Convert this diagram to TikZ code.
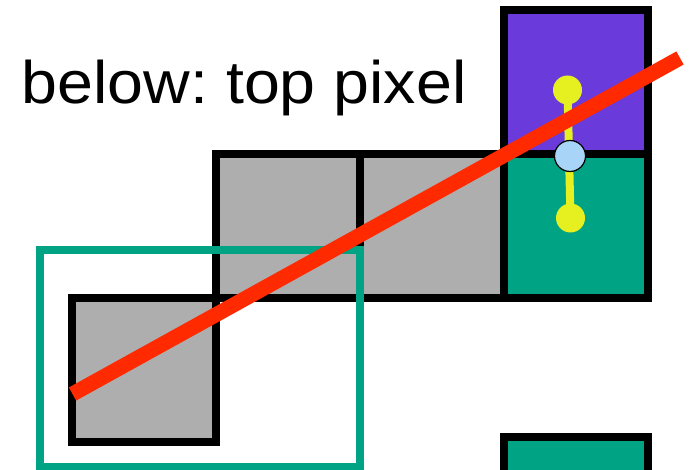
\documentclass[tikz,border=0pt]{standalone}
\usepackage{fontspec}
\setmainfont{Liberation Sans}
\usetikzlibrary{positioning}
\definecolor{ink}     {HTML}{000000}
\definecolor{cellgray}{HTML}{AEAEAE}
\definecolor{pxviolet}{HTML}{6A3ADB}
\definecolor{pxgreen} {HTML}{00A383}
\definecolor{rayred}  {HTML}{FF2A00}
\definecolor{probe}   {HTML}{E6F020}
\definecolor{hitblue} {HTML}{A8D4F8}
\tikzset{
  % --- cells
  cell/.style  = {draw=ink, line width=8pt, fill=cellgray},
  topcell/.style = {cell, fill=pxviolet},
  lowcell/.style = {cell, fill=pxgreen},
  frame/.style = {draw=pxgreen, line width=8pt},
  % --- marks
  ray/.style   = {draw=rayred, line width=15pt},
  stem/.style  = {draw=probe, line width=8pt},
  dot/.style   = {circle, fill=probe, inner sep=0pt, minimum size=29pt},
  hit/.style   = {circle, draw=ink, line width=1.2pt, fill=hitblue, inner sep=0pt,
                  minimum size=31pt},
  title/.style = {font=\fontsize{60}{68}\selectfont\frenchspacing, text=ink, inner sep=0pt,
                  xscale=1.075, transform shape},
}
\begin{document}
\begin{tikzpicture}[x=1pt, y=-1pt]
  \useasboundingbox (0,0) rectangle (692,470);

  % grid cells
  \draw[cell] (72,298) rectangle (216,442);
  \draw[cell] (216,154) rectangle (360,298);
  \draw[cell] (360,154) rectangle (504,298);
  \draw[topcell] (504,10) rectangle (648,154);
  \draw[lowcell] (504,154) rectangle (648,298);
  \draw[lowcell] (504,437) rectangle (648,581);

  % search window
  \draw[frame] (40,250) rectangle (360,467);

  % probe samples
  \coordinate (upper) at (567.5,90);
  \coordinate (lower) at (570.5,218);
  \draw[stem] (upper) -- (lower);
  \node[dot] (updot) at (upper) {};
  \node[dot] (lowdot) at (lower) {};

  % ray
  \coordinate (rayA) at (72.5,394);
  \coordinate (rayB) at (680,58);
  \draw[ray] (rayA) -- (rayB);

  \node[hit] (hitpt) at (570,156) {};

  \node[title, anchor=base west] (caption) at (21.7,103.3) {below: top pixel};
\end{tikzpicture}
\end{document}
